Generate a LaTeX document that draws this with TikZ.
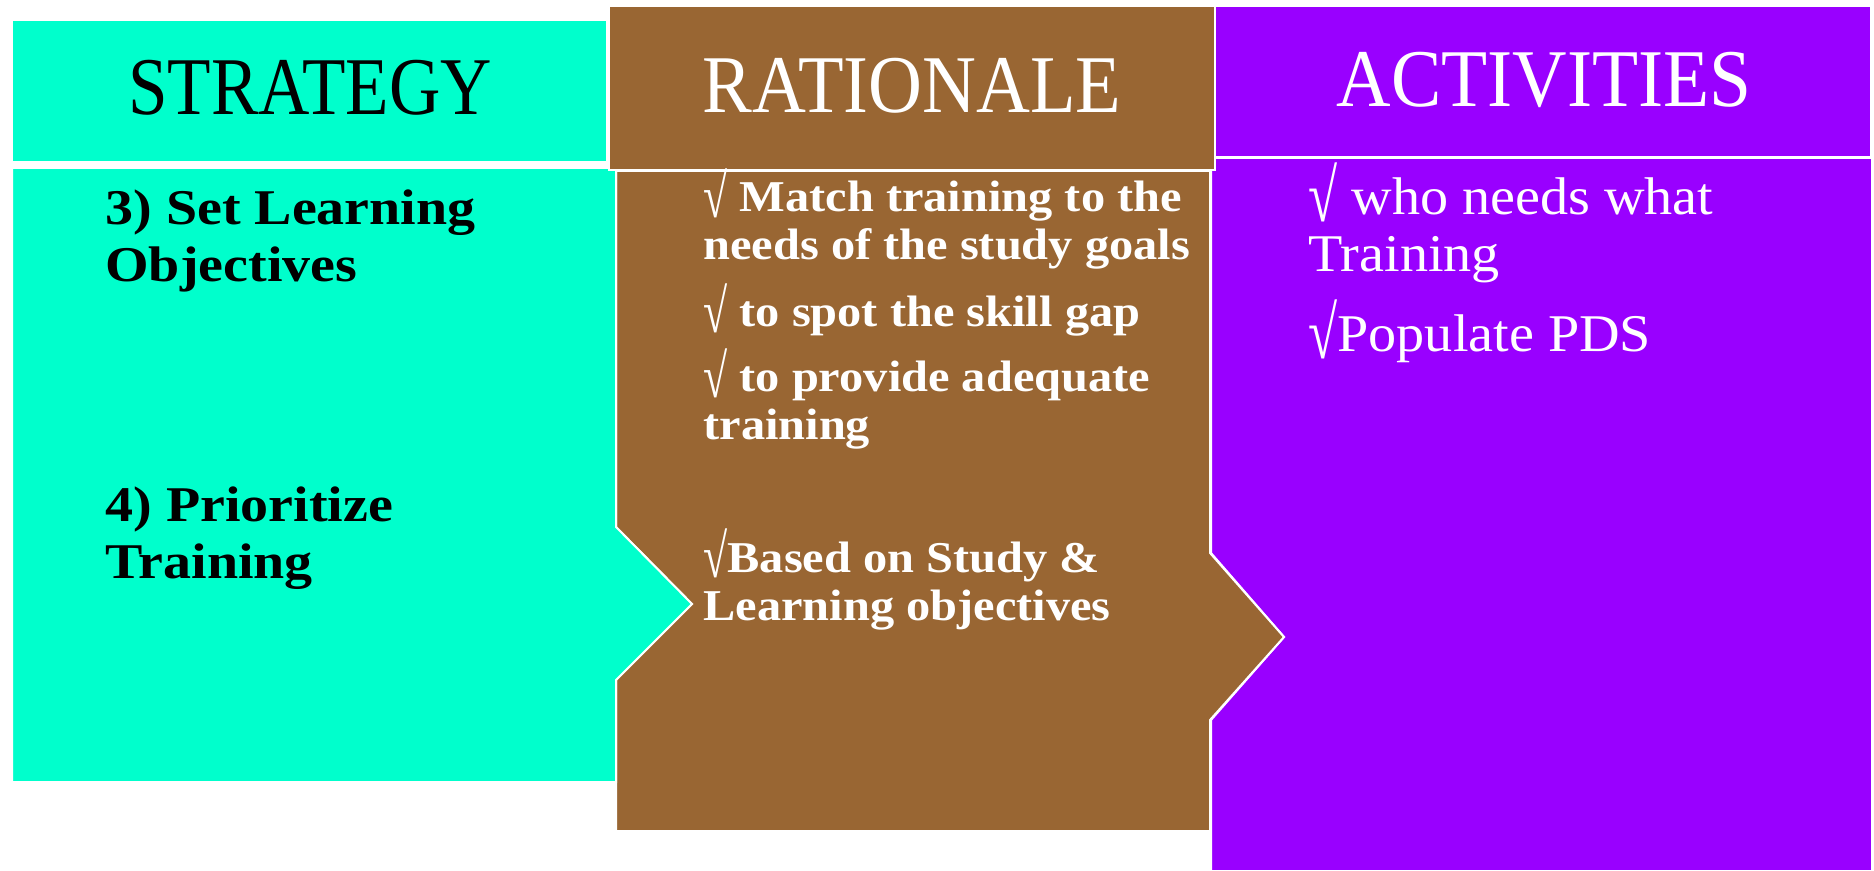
\documentclass[tikz,border=0pt]{standalone}
\usepackage{graphicx}
\usepackage{fontspec}
\setmainfont{Liberation Serif}
\newfontfamily\stratfont[FakeStretch=1.12]{Liberation Serif}
\newfontfamily\ratfont[FakeStretch=1.10]{Liberation Serif}
\newfontfamily\actfont[FakeStretch=1.06]{Liberation Serif}
\newcommand{\chk}{\raisebox{-0.12em}{\scalebox{1}[1.4]{\normalfont√}}}
\definecolor{cyanbox}{HTML}{00FFCC}
\definecolor{brownbox}{HTML}{996633}
\definecolor{purplebox}{HTML}{9900FF}
\tikzset{
  panel/.style={draw=white, line width=1pt},
  headtext/.style={anchor=base, inner sep=0pt, font=\fontsize{41}{41}\selectfont},
  strattext/.style={anchor=base west, inner sep=0pt, text=black, font=\stratfont\bfseries\fontsize{25}{28}\selectfont},
  rattext/.style={anchor=base west, inner sep=0pt, text=white, font=\ratfont\bfseries\fontsize{22}{24}\selectfont},
  acttext/.style={anchor=base west, inner sep=0pt, text=white, font=\actfont\fontsize{26.5}{28}\selectfont},
}
\begin{document}
\begin{tikzpicture}[x=0.5pt, y=-0.5pt]
\fill[white] (0,0) rectangle (1874,871);
\useasboundingbox (0,0) rectangle (1874,871);
% bodies
\draw[panel, fill=purplebox] (1211,158) -- (1872,158) -- (1872,871) -- (1211,871) -- (1211,720) -- (1284,637) -- (1211,553) -- cycle;
\draw[panel, fill=brownbox] (616,171) -- (1210,171) -- (1210,553) -- (1284,637) -- (1210,720) -- (1210,831) -- (616,831) -- (616,680) -- (692,604) -- (616,527) -- cycle;
\draw[panel, fill=cyanbox] (12,168) -- (616,168) -- (616,527) -- (692,604) -- (616,680) -- (616,782) -- (12,782) -- cycle;
% headers
\draw[panel, fill=cyanbox] (12,20) rectangle (607,162);
\draw[panel, fill=brownbox] (609,6) rectangle (1215,170);
\draw[panel, fill=purplebox] (1215,6) rectangle (1871,157);
\node[headtext, text=black] (hs) at (310,115) {\scalebox{0.867}[1]{STRATEGY}};
\node[headtext, text=white] (hr) at (912,113) {\scalebox{0.91}[1]{RATIONALE}};
\node[headtext, text=white] (ha) at (1544,107) {\scalebox{0.92}[1]{ACTIVITIES}};
% strategy text
\node[strattext] (s1) at (105,225) {3) Set Learning};
\node[strattext] (s2) at (105,282) {Objectives};
\node[strattext] (s3) at (105,522) {4) Prioritize};
\node[strattext] (s4) at (105,578) {Training};
% rationale text
\node[rattext] (r1) at (703,212) {\chk{} Match training to the};
\node[rattext] (r2) at (703,260) {needs of the study goals};
\node[rattext] (r3) at (703,327) {\chk{} to spot the skill gap};
\node[rattext] (r4) at (703,392) {\chk{} to provide adequate};
\node[rattext] (r5) at (703,440) {training};
\node[rattext] (r6) at (703,572) {\chk{}Based on Study \&};
\node[rattext] (r7) at (703,620) {Learning objectives};
% activities text
\node[acttext] (a1) at (1308,215) {\chk{} who needs what};
\node[acttext] (a2) at (1308,272) {Training};
\node[acttext] (a3) at (1308,352) {\chk{}Populate PDS};
\end{tikzpicture}
\end{document}
